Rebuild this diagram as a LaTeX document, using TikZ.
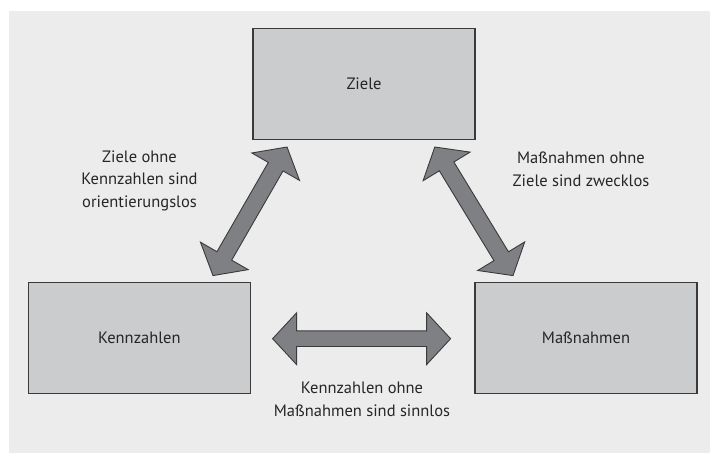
\documentclass[tikz,border=0pt]{standalone}
\usepackage{fontspec}
\setmainfont{PT Sans}
\usetikzlibrary{calc}
\definecolor{panel}{HTML}{ECECEC}
\definecolor{boxfill}{HTML}{CBCCCE}
\definecolor{boxline}{HTML}{3A3A3A}
\definecolor{arrowfill}{HTML}{7F8084}
\definecolor{txt}{HTML}{262626}

% fat double-headed arrow between two named tips
% #1,#2 tips; #3 head length; #4 half head width; #5 half shaft width
\newcommand\fatarrow[5]{%
  \draw[fatarrowstyle]
    (#1)
    -- ($(#1)!#3!(#2)!#4!90:(#2)$)
    -- ($(#1)!#3!(#2)!#5!90:(#2)$)
    -- ($(#2)!#3!(#1)!#5!-90:(#1)$)
    -- ($(#2)!#3!(#1)!#4!-90:(#1)$)
    -- (#2)
    -- ($(#2)!#3!(#1)!#4!90:(#1)$)
    -- ($(#2)!#3!(#1)!#5!90:(#1)$)
    -- ($(#1)!#3!(#2)!#5!-90:(#2)$)
    -- ($(#1)!#3!(#2)!#4!-90:(#2)$)
    -- cycle;}

\begin{document}
\begin{tikzpicture}[x=1pt,y=-1pt,
  box/.style={draw=boxline,line width=1.3pt,fill=boxfill,minimum width=222pt,
    minimum height=111pt,inner sep=0pt,text=txt,font=\fontsize{16.5}{22.5}\selectfont},
  label/.style={align=center,text=txt,inner sep=0pt,font=\fontsize{16.5}{22.5}\selectfont},
  fatarrowstyle/.style={draw=boxline,line width=0.9pt,fill=arrowfill,line join=miter}]
  \useasboundingbox (0,0) rectangle (710,453);
  \fill[white] (0,0) rectangle (710,453);
  \fill[panel] (9,11) rectangle (710,453);

  \node[box] (ziele) at (364,84.2) {Ziele};
  \node[box] (kenn) at (139.3,338) {Kennzahlen};
  \node[box] (mass) at (586,338) {Maßnahmen};

  \node[label] (lz) at (139.5,180.5) {Ziele ohne\\Kennzahlen sind\\orientierungslos};
  \node[label] (lm) at (581,169.5) {Maßnahmen ohne\\Ziele sind zwecklos};
  \node[label] (lk) at (362,399.5) {Kennzahlen ohne\\Maßnahmen sind sinnlos};

  \coordinate (a1) at (287,147);
  \coordinate (a2) at (213,275.6);
  \coordinate (b1) at (434.8,147);
  \coordinate (b2) at (513,275.6);
  \coordinate (c1) at (272.6,338.7);
  \coordinate (c2) at (450.6,338.7);

  \fatarrow{a1}{a2}{22.7pt}{27.5pt}{8.5pt}
  \fatarrow{b1}{b2}{22.7pt}{27.5pt}{8.5pt}
  \fatarrow{c1}{c2}{24pt}{25.9pt}{7.8pt}
\end{tikzpicture}
\end{document}
